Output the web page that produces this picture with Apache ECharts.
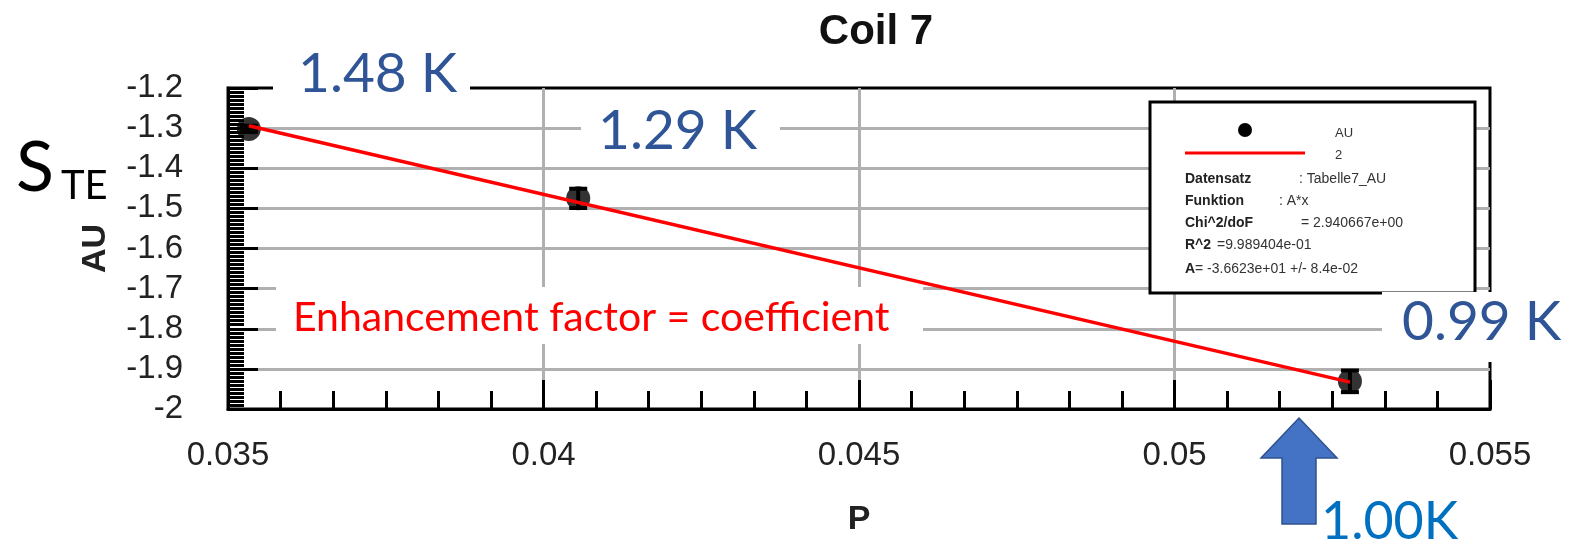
<!DOCTYPE html>
<html>
<head>
<meta charset="utf-8">
<title>Coil 7</title>
<script src="https://cdn.jsdelivr.net/npm/echarts@6/dist/echarts.min.js"></script>
<style>
  html, body { margin: 0; padding: 0; background: #fff; }
  #chart { width: 1575px; height: 542px; }
</style>
</head>
<body>
<div id="chart"></div>
<script>
// measured points (P, AU) with their error bars
const pValues = [0.03533, 0.04055, 0.05278];
const auValues = [-1.302, -1.475, -1.931];
const auErrors = [0.008, 0.024, 0.027];

// fit A*x, drawn from first to last point
const fitP = [0.03533, 0.05278];
const fitAU = [-1.294, -1.933];

// axis ranges / tick labels
const xTicks = [0.035, 0.04, 0.045, 0.05, 0.055];
const yTicks = [-2, -1.9, -1.8, -1.7, -1.6, -1.5, -1.4, -1.3, -1.2];

// fit info block
const legendNames = ["AU", "2"];
const fitKeys = ["Datensatz", "Funktion", "Chi^2/doF", "R^2", "A"];
const fitVals = [": Tabelle7_AU", ": A*x", "= 2.940667e+00", "=9.989404e-01", "= -3.6623e+01 +/- 8.4e-02"];

// temperature annotations
const tempLabels = ["1.48 K", "1.29 K", "0.99 K", "1.00K"];
const noteText = "Enhancement factor = coefficient";

const chart = echarts.init(document.getElementById("chart"));

const gridLine = { show: true, showMinLine: false, showMaxLine: false, lineStyle: { color: "#b0b0b0", width: 3 } };
const axisFont = { color: "#222", fontSize: 33, fontFamily: "Liberation Sans, Arial" };
const nameFont = { color: "#222", fontSize: 34, fontWeight: "bold", fontFamily: "Liberation Sans, Arial" };

// x offsets of the value column in the fit block
const fitValX = [1299, 1279, 1301, 1217, 1195];
const fitRowY = [179, 201, 223, 245, 269];

const fitBlock = [];
fitKeys.forEach((k, i) => {
  fitBlock.push({
    type: "text", x: 1185, y: fitRowY[i],
    style: { text: k, fill: "#222", fontSize: 14, fontWeight: "bold", fontFamily: "Liberation Sans, Arial", textVerticalAlign: "middle" }
  });
  fitBlock.push({
    type: "text", x: fitValX[i], y: fitRowY[i],
    style: { text: fitVals[i], fill: "#333", fontSize: 14, fontFamily: "Liberation Sans, Arial", textVerticalAlign: "middle" }
  });
});

function labelBox(x, y, w, h) {
  return { type: "rect", shape: { x: x, y: y, width: w, height: h }, style: { fill: "#fff" } };
}
function bigText(t, x, y, color, size) {
  return {
    type: "text", x: x, y: y,
    style: { text: t, fill: color, fontSize: size, fontFamily: "Lato", textVerticalAlign: "middle" }
  };
}

const overlay = [
  // fit info box
  {
    type: "rect", shape: { x: 1150, y: 102, width: 325, height: 191 },
    style: { fill: "#fff", stroke: "#000", lineWidth: 3 }
  },
  { type: "circle", shape: { cx: 1245, cy: 130, r: 7 }, style: { fill: "#000" } },
  { type: "line", shape: { x1: 1185, y1: 153, x2: 1305, y2: 153 }, style: { stroke: "#ff0000", lineWidth: 3 } },
  { type: "text", x: 1335, y: 133, style: { text: legendNames[0], fill: "#333", fontSize: 13, fontFamily: "Liberation Sans, Arial", textVerticalAlign: "middle" } },
  { type: "text", x: 1335, y: 155, style: { text: legendNames[1], fill: "#333", fontSize: 13, fontFamily: "Liberation Sans, Arial", textVerticalAlign: "middle" } }
].concat(fitBlock).concat([
  // white label boxes over the plot
  labelBox(273, 40, 197, 58),
  labelBox(581, 106, 199, 60),
  labelBox(276, 287, 647, 57),
  labelBox(1382, 292, 193, 70),
  bigText(tempLabels[0], 298, 74, "#2f5597", 55),
  bigText(tempLabels[1], 598, 131, "#2f5597", 55),
  bigText(tempLabels[2], 1402, 322, "#2f5597", 55),
  bigText(noteText, 293, 318, "#ff0000", 41),
  // S_TE symbol
  { type: "text", x: 16, y: 168, style: { text: "S", fill: "#000", fontSize: 70, fontFamily: "Lato", textVerticalAlign: "middle" } },
  { type: "text", x: 61, y: 186, style: { text: "TE", fill: "#000", fontSize: 40, fontFamily: "Lato", textVerticalAlign: "middle" } },
  // arrow pointing at 1.00K
  {
    type: "polygon",
    shape: { points: [[1299, 418], [1337, 458], [1316, 458], [1316, 524], [1282, 524], [1282, 458], [1261, 458]] },
    style: { fill: "#4472c4", stroke: "#2f528f", lineWidth: 1.5 }
  },
  bigText(tempLabels[3], 1321, 522, "#0070c0", 52)
]);
overlay.forEach(el => { el.z = 100; });

chart.setOption({
  animation: false,
  backgroundColor: "#fff",
  title: {
    text: "Coil 7",
    left: 871,
    textAlign: "center",
    top: 6,
    textStyle: { color: "#111", fontSize: 42, fontWeight: "bold", fontFamily: "Liberation Sans, Arial" }
  },
  grid: {
    left: 228, right: 85, top: 88, bottom: 132,
    show: true, borderColor: "#000", borderWidth: 3, backgroundColor: "#fff"
  },
  xAxis: {
    type: "value",
    min: xTicks[0],
    max: xTicks[xTicks.length - 1],
    interval: 0.005,
    name: "P",
    nameLocation: "middle",
    nameGap: 94,
    nameTextStyle: nameFont,
    axisLine: { lineStyle: { color: "#000", width: 3 } },
    axisTick: { inside: true, length: 29, lineStyle: { color: "#000", width: 3 } },
    minorTick: { show: true, splitNumber: 6, length: 18, lineStyle: { color: "#000", width: 3 } },
    axisLabel: Object.assign({ margin: 30 }, axisFont),
    splitLine: gridLine
  },
  yAxis: {
    type: "value",
    min: yTicks[0],
    max: yTicks[yTicks.length - 1],
    interval: 0.1,
    name: "AU",
    nameLocation: "middle",
    nameRotate: 90,
    nameGap: 115,
    nameTextStyle: nameFont,
    axisLine: { lineStyle: { color: "#000", width: 3 } },
    axisTick: { inside: true, length: 30, lineStyle: { color: "#000", width: 3 } },
    minorTick: { show: true, splitNumber: 10, length: 16, lineStyle: { color: "#000", width: 3 } },
    axisLabel: Object.assign({ margin: 45, padding: [8, 0, 0, 0] }, axisFont),
    splitLine: gridLine
  },
  series: [
    {
      name: legendNames[1],
      type: "line",
      data: fitP.map((p, i) => [p, fitAU[i]]),
      showSymbol: false,
      lineStyle: { color: "#ff0000", width: 3.5 },
      z: 3
    },
    {
      name: "err",
      type: "custom",
      data: pValues.map((p, i) => [p, auValues[i], auErrors[i]]),
      renderItem: function (params, api) {
        const x = api.value(0), y = api.value(1), e = api.value(2);
        const hi = api.coord([x, y + e]);
        const lo = api.coord([x, y - e]);
        const cap = 9;
        const st = { stroke: "#000", lineWidth: 4 };
        return {
          type: "group",
          children: [
            { type: "line", shape: { x1: hi[0], y1: hi[1], x2: lo[0], y2: lo[1] }, style: st },
            { type: "line", shape: { x1: hi[0] - cap, y1: hi[1], x2: hi[0] + cap, y2: hi[1] }, style: st },
            { type: "line", shape: { x1: lo[0] - cap, y1: lo[1], x2: lo[0] + cap, y2: lo[1] }, style: st }
          ]
        };
      },
      z: 2
    },
    {
      name: legendNames[0],
      type: "scatter",
      data: pValues.map((p, i) => [p, auValues[i]]),
      symbol: "circle",
      symbolSize: 24,
      itemStyle: { color: "#000" },
      z: 2
    }
  ],
  graphic: overlay
});
</script>
</body>
</html>
